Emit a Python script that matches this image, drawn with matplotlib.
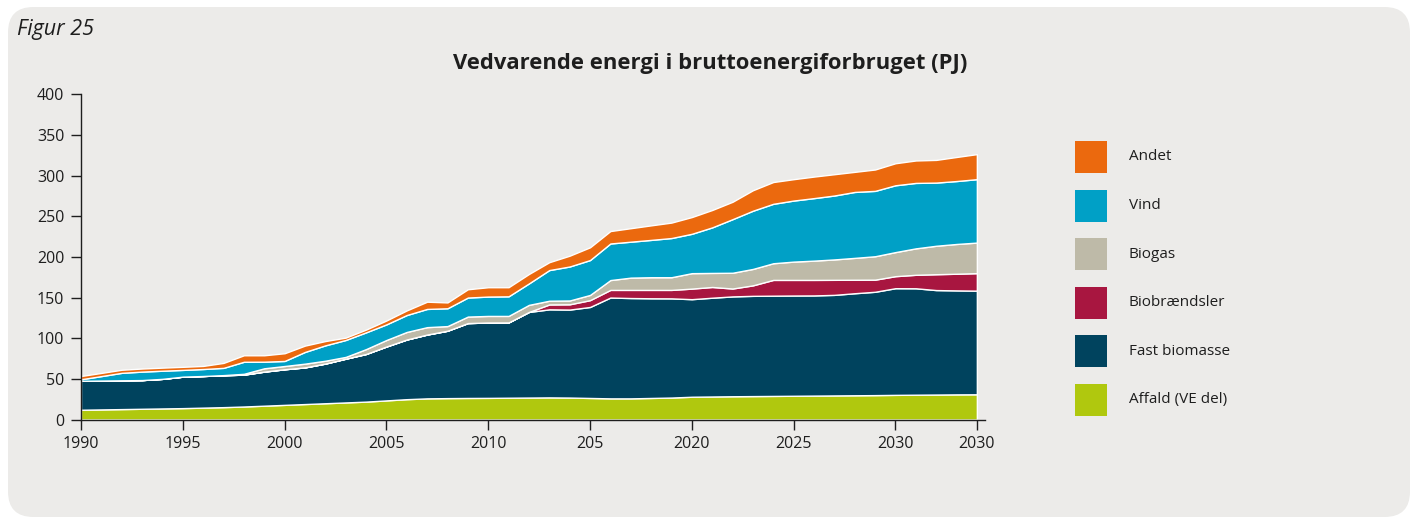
import numpy as np
import matplotlib.pyplot as plt
from matplotlib.patches import FancyBboxPatch, Rectangle

plt.rcParams['font.family'] = ['Open Sans', 'DejaVu Sans']

# 1. DATA (PJ per year, stacked from the bottom up)
affald = [12.0, 12.4, 12.8, 13.2, 13.6, 14.0, 14.6, 15.2, 16.0, 17.0,
          18.0, 19.0, 20.0, 21.0, 22.0, 23.5, 25.0, 26.0, 26.3, 26.5,
          26.6, 26.8, 27.0, 27.2, 27.0, 26.5, 26.0, 26.0, 26.5, 27.0,
          28.0, 28.3, 28.6, 28.8, 29.0, 29.2, 29.4, 29.6, 29.8, 30.0,
          30.3, 30.5, 30.7, 30.9, 31.0]
fast_biomasse = [35.6, 35.5, 35.4, 35.3, 36.4, 38.7, 38.9, 39.2, 39.2, 41.9,
                 43.8, 45.1, 48.8, 53.8, 58.6, 66.3, 73.4, 78.5, 82.9, 92.1,
                 92.7, 92.6, 105.3, 108.3, 108.2, 111.9, 124.0, 123.4, 122.6, 122.0,
                 120.0, 121.5, 122.8, 123.3, 123.3, 123.3, 123.2, 123.7, 125.5, 127.1,
                 131.2, 130.9, 128.5, 127.9, 127.5]
biobraendsler = [0.0] * 23 + [6.0, 6.5, 8.4, 9.4, 10.0, 10.3, 10.4,
                              13.0, 13.2, 9.7, 12.9, 19.4, 19.2, 19.1, 18.5, 16.6, 14.9,
                              14.8, 16.6, 19.5, 20.5, 21.5]
biogas = [0.0, 0.0, 0.0, 0.0, 0.0, 0.0, 0.0, 0.2, 1.0, 4.1,
          4.0, 4.6, 3.5, 2.2, 6.0, 8.0, 9.3, 9.1, 5.7, 8.0,
          8.1, 8.0, 8.7, 4.6, 4.7, 6.4, 12.1, 15.1, 15.6, 15.6,
          19.0, 17.3, 19.4, 20.2, 20.5, 22.5, 23.7, 25.1, 26.9, 28.8,
          29.6, 32.5, 35.0, 36.6, 37.6]
vind = [1.9, 5.5, 9.2, 10.4, 10.0, 8.3, 8.6, 8.9, 14.8, 8.1,
        6.2, 14.4, 18.9, 20.8, 20.6, 19.2, 20.8, 22.4, 21.9, 23.4,
        23.8, 24.1, 26.4, 37.7, 41.8, 42.9, 45.0, 44.2, 45.9, 48.2,
        48.4, 56.0, 65.9, 71.6, 73.1, 75.1, 76.9, 78.6, 81.1, 80.4,
        82.2, 80.5, 77.7, 77.4, 78.0]
andet = [4.0, 3.9, 3.8, 3.8, 3.8, 3.8, 3.8, 6.1, 8.0, 7.9,
         9.5, 7.8, 5.3, 2.9, 3.4, 4.8, 5.7, 8.9, 7.2, 10.2,
         11.5, 11.2, 11.6, 9.7, 13.3, 15.7, 15.3, 16.6, 17.9, 19.0,
         20.6, 21.4, 21.4, 25.2, 26.8, 26.3, 26.5, 26.2, 24.7, 26.3,
         27.1, 27.6, 27.9, 29.6, 30.8]

series_names = ['Affald (VE del)', 'Fast biomasse', 'Biobrændsler', 'Biogas', 'Vind', 'Andet']
series_colors = ['#B0C80E', '#00435E', '#A81640', '#BEBAA8', '#00A0C6', '#EB690E']

x_tick_idx = [0, 5, 10, 15, 20, 25, 30, 35, 40, 44]
x_tick_labels = ['1990', '1995', '2000', '2005', '2010', '205', '2020', '2025', '2030', '2030']
y_ticks = [0, 50, 100, 150, 200, 250, 300, 350, 400]

BG = '#ECEBE9'
INK = '#1E1E1E'

# 2. FIGURE with rounded grey card
W, H = 1415, 519
fig = plt.figure(figsize=(W / 100, H / 100), dpi=100, facecolor='white')
card = FancyBboxPatch((8 / W, 2 / H), (1410 - 8) / W, 510 / H,
                      boxstyle='round,pad=0,rounding_size=0.018',
                      mutation_aspect=W / H, transform=fig.transFigure,
                      facecolor=BG, edgecolor='none', zorder=-5)
fig.patches.append(card)

fig.text(17 / W, 1 - 29 / H, 'Figur 25', style='italic', fontsize=15.5,
         color=INK, va='center', ha='left')
fig.text(710 / W, 1 - 63 / H, 'Vedvarende energi i bruttoenergiforbruget (PJ)',
         fontsize=15.8, fontweight='bold', color=INK, ha='center', va='center')

# 3. STACKED AREA
ax = fig.add_axes([81 / W, (H - 419.5) / H, (985 - 81) / W, 325.2 / H])
ax.set_facecolor('none')

x = np.arange(len(affald))
ax.stackplot(x, affald, fast_biomasse, biobraendsler, biogas, vind, andet,
             colors=series_colors, edgecolor='white', linewidth=1.0)

ax.set_xlim(0, 44.4)
ax.set_ylim(0, 400)
ax.set_xticks(x_tick_idx)
ax.set_xticklabels(x_tick_labels)
ax.set_yticks(y_ticks)
ax.set_yticklabels([str(v) for v in y_ticks])

for side in ['top', 'right']:
    ax.spines[side].set_visible(False)
for side in ['left', 'bottom']:
    ax.spines[side].set_color(INK)
    ax.spines[side].set_linewidth(1.0)
ax.tick_params(direction='out', length=7, width=1, color=INK,
               labelsize=11.5, labelcolor=INK, pad=5)

# 4. LEGEND (top layer first)
for i, (name, color) in enumerate(zip(series_names[::-1], series_colors[::-1])):
    yc = 157 + i * 48.6
    fig.patches.append(Rectangle((1075 / W, 1 - (yc + 16) / H), 32 / W, 32 / H,
                                 transform=fig.transFigure, facecolor=color,
                                 edgecolor='none'))
    fig.text(1129 / W, 1 - yc / H, name, fontsize=11, color=INK,
             ha='left', va='center')

fig.savefig('out.png', dpi=100, facecolor='white')
